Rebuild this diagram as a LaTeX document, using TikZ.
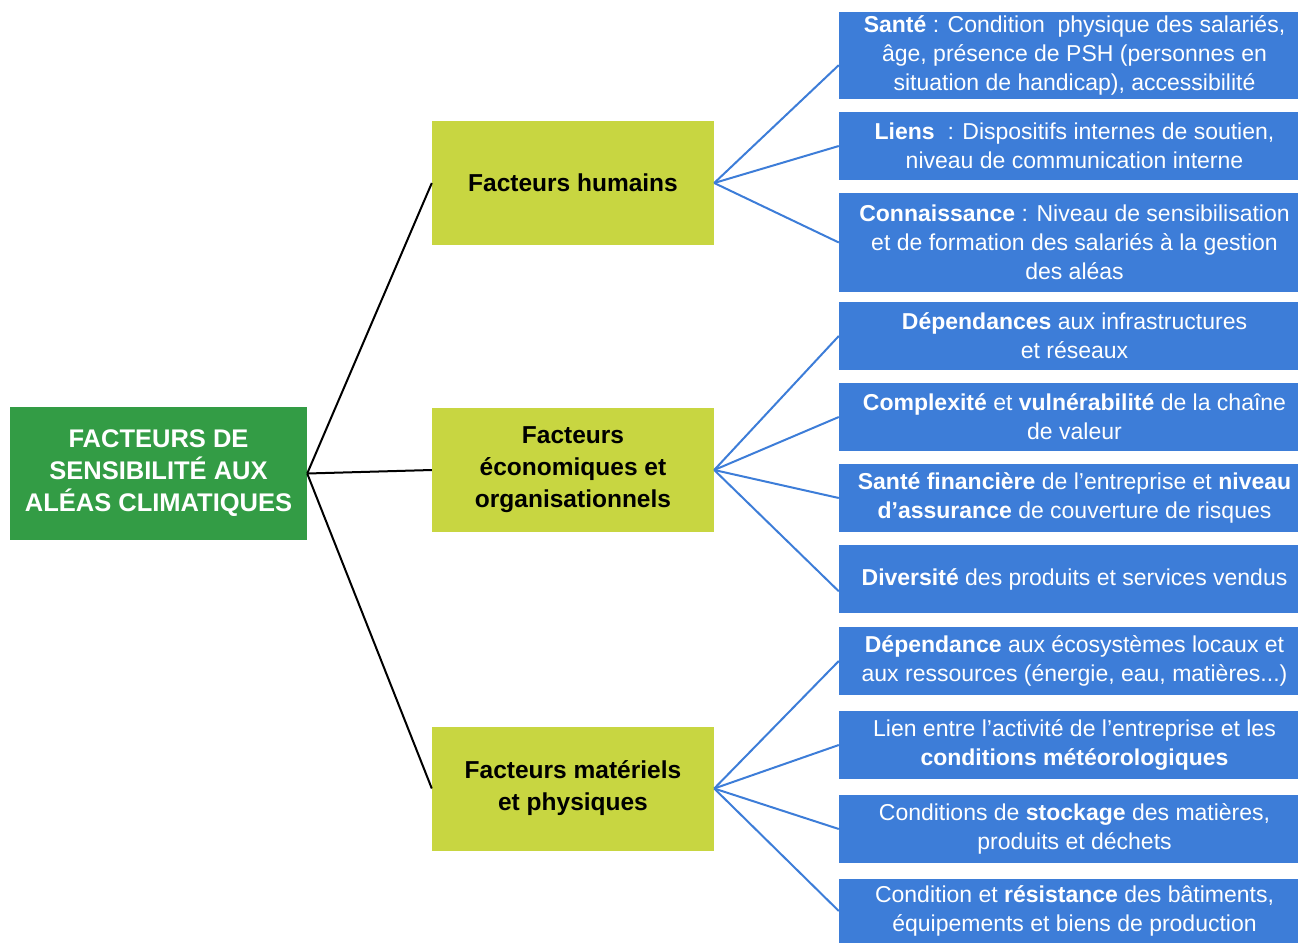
\documentclass[tikz,border=0pt]{standalone}
\usepackage{fontspec}
\setmainfont{Liberation Sans}
\usepackage{tikz}
\usetikzlibrary{                          % TikZ libraries
                calc,                     % .
                positioning}
\usepackage{xcolor}

\definecolor{rootgreen}{RGB}{51,156,69}
\definecolor{midlime}{RGB}{200,214,65}
\definecolor{leafblue}{RGB}{61,125,216}

\begin{document}
\begin{tikzpicture}[x=1pt,y=-1pt
                    ]
                % define styles
\tikzset{root/.style={rectangle,
                       fill=rootgreen,
                       text=white,
                       inner sep=0,
                       minimum width=297pt,
                       minimum height=133pt,
                       align=center,
                       font=\fontsize{25.5}{32}\selectfont\bfseries,
                       },
         mid/.style={rectangle,
                       fill=midlime,
                       text=black,
                       inner sep=0,
                       minimum width=282pt,
                       minimum height=124pt,
                       align=center,
                       font=\fontsize{24.5}{32}\selectfont\bfseries,
                       },
         leaf/.style={rectangle,
                       fill=leafblue,
                       text=white,
                       inner sep=0,
                       minimum width=471pt,
                       minimum height=68pt,
                       align=center,
                       font=\fontsize{23}{29}\selectfont,
                       }
}
\tikzset{blacklink/.style={draw=black, line width=2pt}}
\tikzset{bluelink/.style={draw=leafblue, line width=2pt}}

% frame
\useasboundingbox (0,0) rectangle (1298,943);

% nodes
\node[root]   (root)  at  (158.5,473.5)  {FACTEURS DE\\SENSIBILITÉ AUX\\ALÉAS CLIMATIQUES};

\node[mid]    (hum)   at  (573,183)      {Facteurs humains};
\node[mid]    (eco)   at  (573,470)      {Facteurs\\économiques et\\organisationnels};
\node[mid]    (mat)   at  (573,788.5)    {Facteurs matériels\\et physiques};

\node[leaf,minimum height=87pt] (sante) at (1074.5,55.5)
    {\textbf{Santé} : Condition\ \ physique des salariés,\\âge, présence de PSH (personnes en\\situation de handicap), accessibilité};
\node[leaf]   (liens) at  (1074.5,146)
    {\textbf{Liens}\ \ : Dispositifs internes de soutien,\\niveau de communication interne};
\node[leaf,minimum height=99pt] (conn) at (1074.5,242.5)
    {\textbf{Connaissance} : Niveau de sensibilisation\\et de formation des salariés à la gestion\\des aléas};

\node[leaf]   (dep)   at  (1074.5,336)
    {\textbf{Dépendances} aux infrastructures\\et réseaux};
\node[leaf]   (compl) at  (1074.5,417)
    {\textbf{Complexité} et \textbf{vulnérabilité} de la chaîne\\de valeur};
\node[leaf]   (fin)   at  (1074.5,498)
    {\textbf{Santé financière} de l’entreprise et \textbf{niveau}\\\textbf{d’assurance} de couverture de risques};
\node[leaf]   (div)   at  (1074.5,579)
    {\textbf{Diversité} des produits et services vendus};

\node[leaf]   (ecosys) at (1074.5,661)
    {\textbf{Dépendance} aux écosystèmes locaux et\\aux ressources (énergie, eau, matières...)};
\node[leaf]   (meteo) at  (1074.5,745)
    {Lien entre l’activité de l’entreprise et les\\\textbf{conditions météorologiques}};
\node[leaf]   (stock) at  (1074.5,829)
    {Conditions de \textbf{stockage} des matières,\\produits et déchets};
\node[leaf,minimum height=64pt] (bati) at (1074.5,911)
    {Condition et \textbf{résistance} des bâtiments,\\équipements et biens de production};

% links root -> factors
\foreach \name in {hum, eco, mat}
    \draw[blacklink] (root.east) -- (\name.west);

% links factors -> details
\draw[bluelink] (hum.east) -- ($(sante.south west)!0.39!(sante.north west)$);
\foreach \name in {liens, conn}
    \draw[bluelink] (hum.east) -- (\name.west);

\foreach \name in {dep, compl, fin}
    \draw[bluelink] (eco.east) -- (\name.west);
\draw[bluelink] (eco.east) -- ($(div.south west)!0.32!(div.north west)$);

\foreach \name in {ecosys, meteo, stock, bati}
    \draw[bluelink] (mat.east) -- (\name.west);

\end{tikzpicture}
\end{document}
